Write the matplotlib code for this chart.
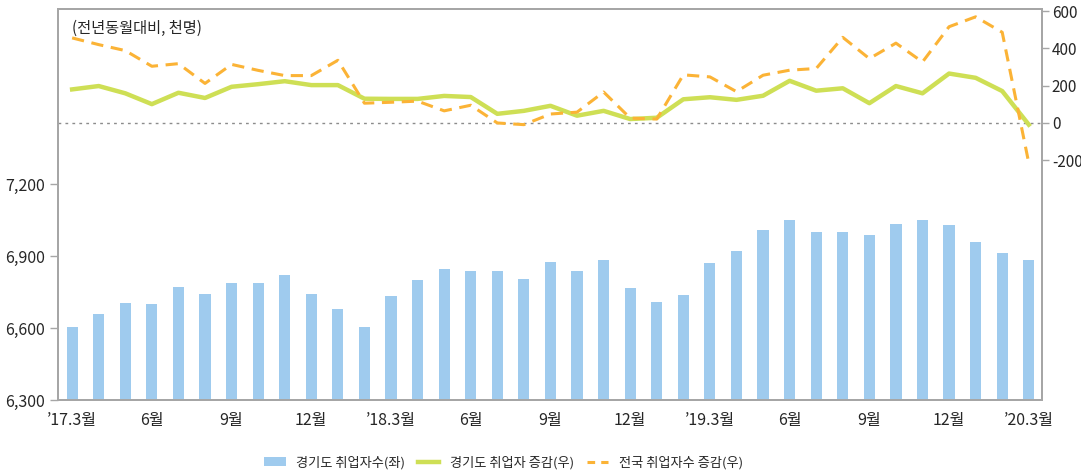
import matplotlib
matplotlib.use("Agg")
import numpy as np
from matplotlib import pyplot as plt
from matplotlib.patches import Patch
from matplotlib.lines import Line2D
from matplotlib.ticker import FuncFormatter

plt.rcParams['font.family'] = ['Noto Sans CJK KR', 'DejaVu Sans']
plt.rcParams['axes.unicode_minus'] = False

# months from 2017.3 to 2020.3
months = list(range(37))
tick_pos = list(range(0, 37, 3))
tick_labels = ['\u201917.3월', '6월', '9월', '12월',
               '\u201918.3월', '6월', '9월', '12월',
               '\u201919.3월', '6월', '9월', '12월',
               '\u201920.3월']

# 경기도 취업자수 (천명, left axis)
gg_employed = [6604, 6658, 6703, 6700, 6771, 6742, 6786, 6786, 6821, 6740,
               6680, 6605, 6733, 6800, 6846, 6836, 6836, 6804, 6874, 6836,
               6883, 6768, 6708, 6738, 6871, 6921, 7007, 7049, 7000, 6999,
               6986, 7035, 7050, 7028, 6957, 6914, 6882]

# 경기도 취업자 증감 (right axis)
gg_change = [180, 198, 159, 101, 162, 134, 194, 208, 224, 203,
             203, 130, 129, 129, 145, 139, 49, 65, 92, 39,
             65, 21, 28, 127, 138, 124, 146, 226, 173, 186,
             106, 198, 159, 265, 242, 171, -9]

# 전국 취업자수 증감 (right axis)
kr_change = [456, 420, 388, 304, 318, 212, 314, 282, 254, 254,
             336, 106, 111, 117, 65, 95, 0, -9, 48, 58,
             166, 26, 21, 258, 247, 168, 256, 283, 292, 459,
             345, 428, 327, 516, 569, 486, -215]

bar_color = '#9FCBEE'
green = '#CEDF55'
orange = '#FBB336'
spine_color = '#A6A6A6'
text_color = '#262626'

fig = plt.figure(figsize=(10.81, 4.76), dpi=100)
ax = fig.add_axes([0.0537, 0.1597, 0.9103, 0.8214])
ax2 = ax.twinx()

ax.bar(months, gg_employed, width=0.42, color=bar_color, zorder=2)
ax.set_ylim(6300, 7930)
ax.set_yticks([6300, 6600, 6900, 7200])
ax.yaxis.set_major_formatter(FuncFormatter(lambda v, p: f'{int(v):,}'))
ax.set_xlim(-0.53, 36.5)
ax.set_xticks(tick_pos)
ax.set_xticklabels(tick_labels)

ax2.axhline(0, color='#8C8C8C', lw=1, ls=(0, (2, 3)), zorder=1)
ax2.plot(months, gg_change, color=green, lw=3.2, solid_joinstyle='round', zorder=3)
ax2.plot(months, kr_change, color=orange, lw=2.2, ls=(0, (4, 2.5)), zorder=4)
ax2.set_ylim(-1485, 611)
ax2.set_yticks([-200, 0, 200, 400, 600])

for a in (ax, ax2):
    for s in a.spines.values():
        s.set_color(spine_color)
        s.set_linewidth(1.3)
    a.tick_params(axis='y', colors=spine_color, labelcolor=text_color,
                  labelsize=11.5, length=6, width=1)
ax2.tick_params(axis='y', labelsize=11, length=5, pad=2)
ax.tick_params(axis='x', length=0, labelsize=11.5, labelcolor=text_color, pad=9)

ax.text(0.014, 0.95, '(전년동월대비, 천명)', transform=ax.transAxes,
        fontsize=11, color=text_color, va='center', ha='left')

handles = [Patch(facecolor=bar_color, edgecolor='none'),
           Line2D([], [], color=green, lw=3.2),
           Line2D([], [], color=orange, lw=2.2, ls=(0, (2.5, 2)))]
labels = ['경기도 취업자수(좌)', '경기도 취업자 증감(우)', '전국 취업자수 증감(우)']
fig.legend(handles, labels, loc='center', bbox_to_anchor=(0.466, 0.028),
           ncol=3, frameon=False, fontsize=9.5, handlelength=1.6,
           columnspacing=1.0, handletextpad=0.8, labelcolor=text_color)

fig.savefig('out.png', dpi=100)
